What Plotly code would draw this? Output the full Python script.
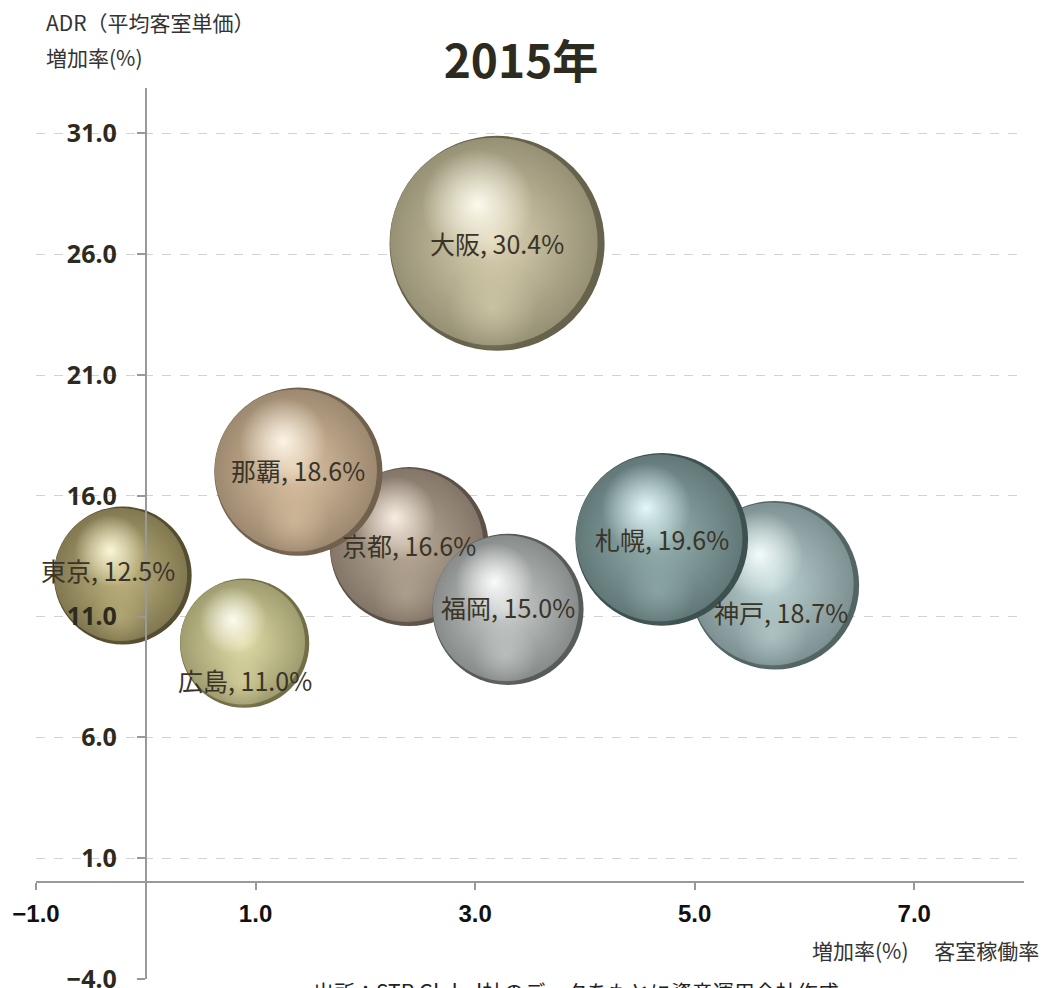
import math
import plotly.graph_objects as go

# ---------------- data ----------------
cities = ["大阪", "京都", "那覇", "福岡", "神戸", "札幌", "東京", "広島"]
occupancy_growth = [3.20, 2.40, 1.39, 3.30, 5.73, 4.70, -0.21, 0.90]   # x : 客室稼働率 増加率(%)
adr_growth = [26.45, 13.9, 17.0, 11.3, 12.3, 14.2, 12.7, 9.9]          # y : ADR 増加率(%)
revpar_growth = [30.4, 16.6, 18.6, 15.0, 18.7, 19.6, 12.5, 11.0]       # bubble size / label
x_tick_values = [-1, 1, 3, 5, 7]
y_tick_values = [-4, 1, 6, 11, 16, 21, 26, 31]

# ---------------- styles ----------------
W, H = 1043, 988
M_L, M_R, M_T, M_B = 36, 19, 88, 9
X_RANGE = [-1, 8]
Y_RANGE = [-4, 32.88]
PLOT_W = W - M_L - M_R
PLOT_H = H - M_T - M_B
PX_X = PLOT_W / (X_RANGE[1] - X_RANGE[0])
PX_Y = PLOT_H / (Y_RANGE[1] - Y_RANGE[0])
BUBBLE_SCALE = 39.0  # px diameter per sqrt(value)

# (mid tone, highlight, dark rim)
PALETTE = {
    "大阪": ("#dcd4b3", "#fffdf0", "#3e3a26"),
    "京都": ("#bcad9a", "#fbf1e6", "#3a3128"),
    "那覇": ("#dfc5a5", "#fff8ea", "#4a3c2c"),
    "福岡": ("#cdd1cf", "#fdffff", "#2e3231"),
    "神戸": ("#bed4d5", "#f6ffff", "#2c3c3c"),
    "札幌": ("#98b3b3", "#e8fdfd", "#1e2e2e"),
    "東京": ("#c2b681", "#fffcdc", "#2e2812"),
    "広島": ("#e2dea9", "#fffff4", "#4a4826"),
}
LABEL_SHIFT = {  # (xshift, yshift) in px
    "大阪": (0, 0), "京都": (0, 2), "那覇": (0, 2), "福岡": (0, 2),
    "神戸": (6, -27), "札幌": (0, 0), "東京": (-15, 6), "広島": (0, -37),
}
TEXT_COLOR = "#3a3428"
FONT = "Noto Sans CJK JP"


def hex_rgb(hexc):
    hexc = hexc.lstrip("#")
    return int(hexc[0:2], 16), int(hexc[2:4], 16), int(hexc[4:6], 16)


def rgba(hexc, a):
    r, g, b = hex_rgb(hexc)
    return f"rgba({r},{g},{b},{a})"


def blend(c1, c2, t):
    a, b = hex_rgb(c1), hex_rgb(c2)
    r, g, bl = (round(a[i] + (b[i] - a[i]) * t) for i in range(3))
    return f"rgb({r},{g},{bl})"


fig = go.Figure()

for city, xv, yv, sv in zip(cities, occupancy_growth, adr_growth, revpar_growth):
    mid, light, rim = PALETTE[city]
    d = BUBBLE_SCALE * math.sqrt(sv)
    # dark rim disc
    fig.add_trace(go.Scatter(
        x=[xv], y=[yv], mode="markers", name=city,
        marker=dict(size=d, sizemode="diameter", color=blend(mid, rim, 0.74), line=dict(width=0)),
        hovertemplate=f"{city}<br>客室稼働率 %{{x:.1f}}%<br>ADR %{{y:.1f}}%<br>{sv:.1f}%<extra></extra>",
        showlegend=False,
    ))
    # lit body, shifted up-left so the rim shows as a thin crescent on the lower right
    fig.add_trace(go.Scatter(
        x=[xv - 0.015 * d / PX_X], y=[yv + 0.008 * d / PX_Y], mode="markers",
        marker=dict(size=0.965 * d, sizemode="diameter", color=blend(mid, rim, 0.44),
                    gradient=dict(type="radial", color=mid),
                    line=dict(width=0)),
        hoverinfo="skip", showlegend=False,
    ))
    # soft reflected light near the bottom
    fig.add_trace(go.Scatter(
        x=[xv - 0.02 * d / PX_X], y=[yv - 0.30 * d / PX_Y], mode="markers",
        marker=dict(size=0.42 * d, sizemode="diameter", color=rgba(mid, 0.0),
                    gradient=dict(type="radial", color=rgba(mid, 0.55)),
                    line=dict(width=0)),
        hoverinfo="skip", showlegend=False,
    ))
    # specular highlight
    fig.add_trace(go.Scatter(
        x=[xv - 0.09 * d / PX_X], y=[yv + 0.18 * d / PX_Y], mode="markers",
        marker=dict(size=0.52 * d, sizemode="diameter", color=rgba(light, 0.0),
                    gradient=dict(type="radial", color=rgba(light, 0.95)),
                    line=dict(width=0)),
        hoverinfo="skip", showlegend=False,
    ))

annotations = []
for city, xv, yv, sv in zip(cities, occupancy_growth, adr_growth, revpar_growth):
    xs, ys = LABEL_SHIFT[city]
    annotations.append(dict(
        x=xv, y=yv, xref="x", yref="y", text=f"{city}, {sv:.1f}%",
        showarrow=False, xshift=xs, yshift=ys,
        font=dict(family=FONT, size=25, color=TEXT_COLOR),
    ))


def px_x(p):
    return (p - M_L) / PLOT_W


def px_y(p):
    return (H - M_B - p) / PLOT_H


annotations += [
    dict(text="ADR（平均客室単価）", xref="paper", yref="paper", x=px_x(44), y=px_y(22),
         xanchor="left", yanchor="middle", showarrow=False,
         font=dict(family=FONT, size=21, color="#333333")),
    dict(text="増加率(%)", xref="paper", yref="paper", x=px_x(44), y=px_y(57),
         xanchor="left", yanchor="middle", showarrow=False,
         font=dict(family=FONT, size=21, color="#333333")),
    dict(text="増加率(%)\u3000 客室稼働率", xref="paper", yref="paper", x=px_x(1041), y=px_y(950),
         xanchor="right", yanchor="middle", showarrow=False,
         font=dict(family=FONT, size=21, color="#333333")),
    dict(text="出所：STR Global社のデータをもとに資産運用会社作成", xref="paper", yref="paper",
         x=px_x(311), y=px_y(974), xanchor="left", yanchor="top", showarrow=False,
         font=dict(family=FONT, size=21, color="#222222")),
]

fig.update_layout(
    width=W, height=H,
    margin=dict(l=M_L, r=M_R, t=M_T, b=M_B, autoexpand=False),
    paper_bgcolor="white", plot_bgcolor="white",
    title=dict(text="2015年", x=521 / W, xanchor="center", y=1 - 62 / H, yanchor="middle",
               font=dict(family=FONT, size=46, color="#2d2a20", weight="bold")),
    annotations=annotations,
    showlegend=False,
    xaxis=dict(
        range=X_RANGE, anchor="free", position=(0 - Y_RANGE[0]) / (Y_RANGE[1] - Y_RANGE[0]),
        tickmode="array", tickvals=x_tick_values, tickformat=".1f",
        showgrid=False, zeroline=False, automargin=False,
        showline=True, linecolor="#999999", linewidth=2,
        ticks="outside", ticklen=7, tickwidth=2, tickcolor="#999999",
        ticklabelstandoff=3, ticklabeloverflow="allow",
        tickfont=dict(family="Liberation Sans", size=24, color="#111111", weight="bold"),
    ),
    yaxis=dict(
        range=Y_RANGE, anchor="free", position=(0 - X_RANGE[0]) / (X_RANGE[1] - X_RANGE[0]),
        tickmode="array", tickvals=y_tick_values, tickformat=".1f",
        showgrid=True, gridcolor="#d2d2d2", griddash="dash", gridwidth=1,
        zeroline=False, automargin=False,
        showline=True, linecolor="#999999", linewidth=2,
        ticks="outside", ticklen=8, tickwidth=2, tickcolor="#999999",
        ticklabelstandoff=15, ticklabeloverflow="allow",
        tickfont=dict(family="Noto Sans", size=25, color="#2d2a1e", weight="bold"),
    ),
)

fig.write_html("out.html", config={"displayModeBar": False},
               post_script="document.body.style.margin='0';")
